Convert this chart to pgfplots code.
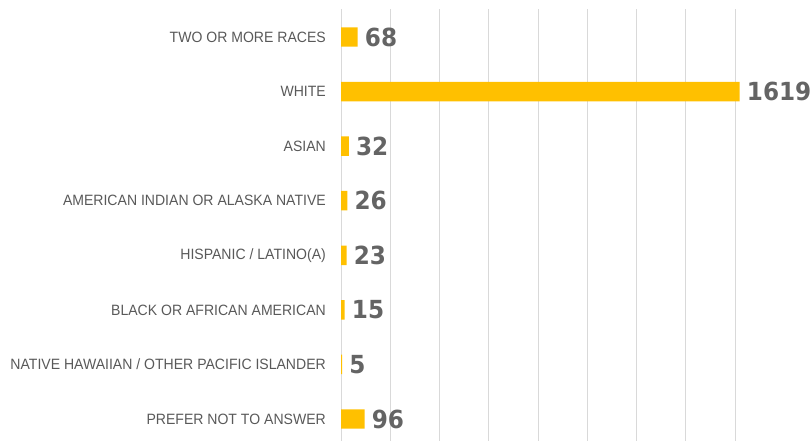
\documentclass[border=0pt]{standalone}
\usepackage{pgfplots}
\pgfplotsset{compat=1.18}
\usepackage{fontspec}
\setmainfont{Liberation Sans}[FakeStretch=0.94]
\newfontfamily\valfont{DejaVu Sans}[FakeStretch=0.93]
\definecolor{bargold}{HTML}{FFC000}
\definecolor{labgray}{HTML}{595959}
\definecolor{valgray}{HTML}{646464}
\definecolor{gridgray}{HTML}{D9D9D9}
\begin{document}
\begin{tikzpicture}
\begin{axis}[
 at={(341bp,0)}, anchor=south west,
 scale only axis, width=471bp, height=432bp,
 xbar, xmin=0, xmax=1912.7, ymin=-0.403, ymax=7.513,
 bar width=0.357, bar shift=0pt,
 xtick={0,200,...,1600}, xticklabels={},
 ytick={0,...,7},
 yticklabels={PREFER NOT TO ANSWER, NATIVE HAWAIIAN / OTHER PACIFIC ISLANDER, BLACK OR AFRICAN AMERICAN, HISPANIC / LATINO(A), AMERICAN INDIAN OR ALASKA NATIVE, ASIAN, WHITE, TWO OR MORE RACES},
 major tick length=0pt,
 xmajorgrids, major grid style={gridgray, line width=1bp},
 axis line style={draw=none},
 yticklabel style={font=\fontsize{15}{15}\selectfont, text=labgray, anchor=east, inner sep=0pt, xshift=-15bp},
 nodes near coords={\pgfmathprintnumber[1000 sep={},assume math mode=true]{\pgfplotspointmeta}},
 point meta=x,
 every node near coord/.append style={anchor=west, inner sep=0pt, xshift=7bp, font=\valfont\bfseries\fontsize{25}{25}\selectfont, text=valgray},
 clip=false,
]
\addplot[fill=bargold, draw=none] coordinates {(96,0) (5,1) (15,2) (23,3) (26,4) (32,5) (1619,6) (68,7)};
\end{axis}
\pgfresetboundingbox
\path[use as bounding box] (0,0) rectangle (812bp,441bp);
\end{tikzpicture}
\end{document}
